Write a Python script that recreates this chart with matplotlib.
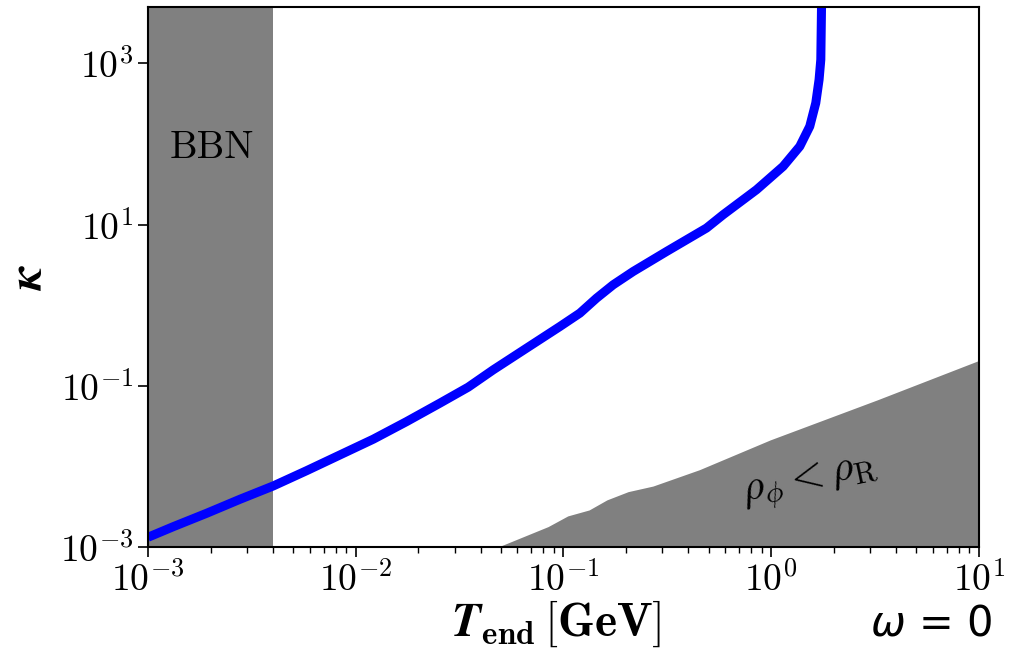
import numpy as np
import matplotlib
matplotlib.use('Agg')
import matplotlib.pyplot as plt

plt.rcParams['mathtext.fontset'] = 'cm'
plt.rcParams['font.family'] = 'serif'
plt.rcParams['font.serif'] = ['cmr10']
plt.rcParams['axes.formatter.use_mathtext'] = True

# blue curve, T_end [GeV] vs kappa
T_curve = [1e-3, 1.323e-3, 1.916e-3, 2.773e-3, 4.01e-3, 5.81e-3, 8.40e-3, 0.01215,
           0.01758, 0.02543, 0.03481, 0.04594, 0.06651, 0.09619, 0.1201, 0.1445,
           0.1737, 0.2168, 0.3140, 0.4889, 0.5877, 0.8511, 1.143, 1.375, 1.536,
           1.642, 1.703, 1.736, 1.75, 1.752]
kappa_curve = [1.32e-3, 1.786e-3, 2.62e-3, 3.91e-3, 5.72e-3, 8.86e-3, 0.01388, 0.02175,
               0.03597, 0.0609, 0.0962, 0.1578, 0.2934, 0.5441, 0.798, 1.225,
               1.793, 2.622, 4.645, 9.07, 13.27, 27.12, 52.8, 93.5, 165.7,
               323.5, 629.5, 1115., 5100., 8000.]

# rho_phi < rho_R region (upper edge of the grey area)
T_rho = [0.0485, 0.0844, 0.105, 0.133, 0.162, 0.205, 0.270, 0.452, 0.99, 3.25, 10.]
kappa_rho = [1e-3, 1.79e-3, 2.43e-3, 2.88e-3, 3.84e-3, 4.86e-3, 5.7e-3, 9.1e-3, 0.0213, 0.067, 0.206]

T_bbn = [1e-3, 4e-3]

fig = plt.figure(figsize=(10.09, 6.5), dpi=100)
ax = fig.add_axes([0.1467, 0.1585, 0.8233, 0.8305])

ax.axvspan(T_bbn[0], T_bbn[1], color='gray', lw=0)
ax.fill_between(T_rho, 1e-4, kappa_rho, color='gray', lw=0)
ax.plot(T_curve, kappa_curve, color='blue', lw=6.5, solid_capstyle='butt')

ax.set_xscale('log')
ax.set_yscale('log')
ax.set_xlim(1e-3, 1e1)
ax.set_ylim(1e-3, 5e3)
ax.set_yticks([1e-3, 1e-1, 1e1, 1e3])
ax.yaxis.set_minor_locator(matplotlib.ticker.NullLocator())
ax.tick_params(axis='both', which='major', labelsize=27, length=7, width=1.2)
ax.tick_params(axis='x', which='minor', length=4, width=1.0)
for s in ax.spines.values():
    s.set_linewidth(1.5)

ax.text(2.03e-3, 90, 'BBN', fontsize=28, ha='center', va='center')
ax.text(1.55, 0.0063, r'$\rho_\phi < \rho_{\rm R}$', fontsize=31, rotation=12,
        ha='center', va='center')

ax.set_xlabel(r'$\boldsymbol{T}_{\mathbf{end}}\,\mathbf{[GeV]}$', fontsize=34)
ax.xaxis.set_label_coords(0.491, -0.096)
ax.set_ylabel(r'$\boldsymbol{\kappa}$', fontsize=34)
ax.yaxis.set_label_coords(-0.118, 0.5)

fig.text(0.983, 0.04, r'$\omega$ = 0', fontsize=30, ha='right', va='center',
         family='DejaVu Sans', math_fontfamily='dejavusans')

fig.savefig('out.png', dpi=100)
